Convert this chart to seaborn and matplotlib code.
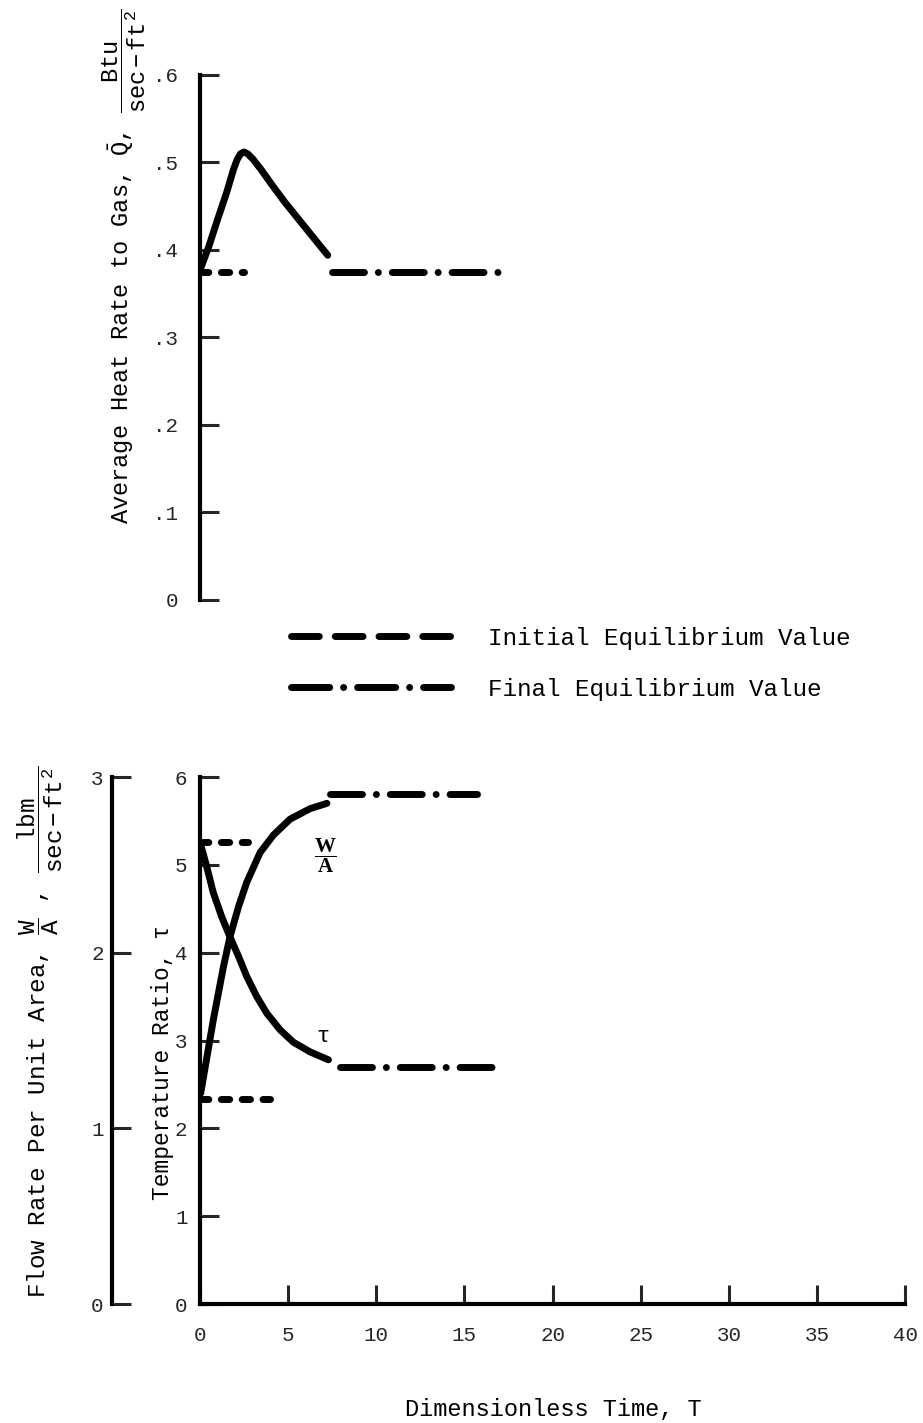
import matplotlib
matplotlib.use("Agg")
import matplotlib.pyplot as plt
import seaborn as sns
from matplotlib.lines import Line2D

# ---------------- data ----------------
q_time = [0.0, 0.5, 1.0, 1.5, 1.9, 2.1, 2.3, 2.5, 2.7, 3.0, 3.5, 4.1, 4.8, 5.6, 6.4, 7.25]
q_rate = [0.377, 0.404, 0.435, 0.465, 0.492, 0.503, 0.510, 0.512, 0.510, 0.504, 0.491,
          0.474, 0.455, 0.435, 0.415, 0.394]
q_initial = 0.375
q_initial_time = [0.0, 2.5]
q_final = 0.375
q_final_time = [7.5, 16.9]

wa_time = [0.04, 0.76, 1.33, 1.70, 2.18, 2.65, 3.41, 4.17, 5.11, 6.25, 7.2]
wa_flow = [1.20, 1.62, 1.92, 2.09, 2.26, 2.40, 2.57, 2.67, 2.76, 2.82, 2.85]
wa_initial = 1.167
wa_initial_time = [0.0, 4.0]
wa_final = 2.905
wa_final_time = [7.4, 15.7]

tau_time = [0.04, 0.38, 0.76, 1.23, 1.70, 2.18, 2.65, 3.22, 3.79, 4.55, 5.30, 6.25, 7.29]
tau_ratio = [5.23, 4.98, 4.68, 4.41, 4.18, 3.96, 3.73, 3.50, 3.31, 3.12, 2.98, 2.87, 2.78]
tau_initial = 5.26
tau_initial_time = [0.0, 2.7]
tau_final = 2.70
tau_final_time = [7.95, 16.85]

x_ticks = [0, 5, 10, 15, 20, 25, 30, 35, 40]
q_ticks = [0.0, 0.1, 0.2, 0.3, 0.4, 0.5, 0.6]
q_tick_labels = ["0", ".1", ".2", ".3", ".4", ".5", ".6"]
tau_ticks = [0, 1, 2, 3, 4, 5, 6]
wa_ticks = [0, 1, 2, 3]
legend_labels = ["Initial Equilibrium Value", "Final Equilibrium Value"]

# ---------------- style ----------------
sns.set_style("ticks")
MONO = ["Liberation Mono", "DejaVu Sans Mono"]
plt.rcParams.update({
    "font.family": MONO,
    "mathtext.fontset": "custom",
    "mathtext.rm": "Liberation Mono",
    "mathtext.it": "Liberation Mono",
    "mathtext.bf": "Liberation Serif:bold",
    "mathtext.tt": "Liberation Mono",
    "axes.edgecolor": "black",
    "text.color": "black",
})

W, H = 923, 1423
fig = plt.figure(figsize=(W / 100, H / 100), dpi=100)
fig.patch.set_facecolor("white")

ax_q = fig.add_axes([200 / W, 1 - 600 / H, 705 / W, 525 / H])
ax_t = fig.add_axes([200 / W, 1 - 1304 / H, 705 / W, 527 / H])
ax_w = ax_t.twinx()

LW = 5
INIT_LS = (0, (1.2, 1.8))
FINAL_LS = (0, (4.6, 2.0, 0.01, 2.0))
common = dict(color="black", lw=LW, legend=False)

# top panel
sns.lineplot(x=q_time, y=q_rate, ax=ax_q, sort=False, solid_capstyle="round",
             solid_joinstyle="round", **common)
sns.lineplot(x=q_initial_time, y=[q_initial] * 2, ax=ax_q, linestyle=INIT_LS,
             dash_capstyle="round", **common)
sns.lineplot(x=q_final_time, y=[q_final] * 2, ax=ax_q, linestyle=FINAL_LS,
             dash_capstyle="round", **common)

# bottom panel: temperature ratio
sns.lineplot(x=tau_time, y=tau_ratio, ax=ax_t, sort=False, solid_capstyle="round",
             solid_joinstyle="round", **common)
sns.lineplot(x=tau_initial_time, y=[tau_initial] * 2, ax=ax_t, linestyle=INIT_LS,
             dash_capstyle="round", **common)
sns.lineplot(x=tau_final_time, y=[tau_final] * 2, ax=ax_t, linestyle=FINAL_LS,
             dash_capstyle="round", **common)

# bottom panel: flow rate (own scale)
sns.lineplot(x=wa_time, y=wa_flow, ax=ax_w, sort=False, solid_capstyle="round",
             solid_joinstyle="round", **common)
sns.lineplot(x=wa_initial_time, y=[wa_initial] * 2, ax=ax_w, linestyle=INIT_LS,
             dash_capstyle="round", **common)
sns.lineplot(x=wa_final_time, y=[wa_final] * 2, ax=ax_w, linestyle=FINAL_LS,
             dash_capstyle="round", **common)

# ---------------- axes formatting ----------------
for ax in (ax_q, ax_t, ax_w):
    ax.set_xlim(0, 40)
    ax.set_facecolor("none")
    ax.set_xlabel("")
    ax.set_ylabel("")
    for s in ax.spines.values():
        s.set_linewidth(3)
        s.set_visible(False)

ax_q.set_ylim(0, 0.6)
ax_q.spines["left"].set_visible(True)
ax_q.set_yticks(q_ticks)
ax_q.set_yticklabels(q_tick_labels)
ax_q.set_xticks([])
ax_q.tick_params(axis="y", direction="in", length=14, width=2.2, pad=16, labelsize=15)

ax_t.set_ylim(0, 6)
ax_t.spines["left"].set_visible(True)
ax_t.spines["bottom"].set_visible(True)
ax_t.set_yticks(tau_ticks)
ax_t.set_xticks(x_ticks)
ax_t.tick_params(axis="y", direction="in", length=14, width=2.2, pad=9, labelsize=15)
ax_t.tick_params(axis="x", direction="in", length=14, width=2.2, pad=16, labelsize=15)

ax_w.set_ylim(0, 3)
ax_w.yaxis.tick_left()
ax_w.spines["left"].set_visible(True)
ax_w.spines["left"].set_position(("axes", -88 / 705))
ax_w.set_yticks(wa_ticks)
ax_w.tick_params(axis="y", which="both", left=True, right=False, labelleft=True,
                 labelright=False, direction="in", length=14, width=2.2, pad=6,
                 labelsize=15)

# curve annotations
ax_t.text(7.1, 5.1, r"$\dfrac{\mathbf{W}}{\mathbf{A}}$", fontsize=15, ha="center", va="center")
ax_t.text(7.0, 3.05, "τ", fontsize=16, ha="center", va="center")

# ---------------- axis titles ----------------
def fx(px):
    return px / W

def fy(py):
    return 1 - py / H

fig.text(fx(124), fy(266),
         r"Average Heat Rate to Gas, $\bar{Q}$, $\dfrac{Btu}{sec-ft^2}$",
         rotation=90, ha="center", va="center", fontsize=17)
fig.text(fx(40), fy(1032),
         r"Flow Rate Per Unit Area, $\dfrac{W}{A}$ , $\dfrac{lbm}{sec-ft^2}$",
         rotation=90, ha="center", va="center", fontsize=17.5)
fig.text(fx(162), fy(1062), "Temperature Ratio, τ",
         rotation=90, ha="center", va="center", fontsize=16.5)
fig.text(fx(553), fy(1410), "Dimensionless Time, T",
         ha="center", va="center", fontsize=17)

# ---------------- legend ----------------
handles = [
    Line2D([0], [0], color="black", lw=LW, linestyle=(0, (4.0, 2.3)), dash_capstyle="round"),
    Line2D([0], [0], color="black", lw=LW, linestyle=(0, (5.5, 2.0, 0.01, 2.0)),
           dash_capstyle="round"),
]
fig.legend(handles, legend_labels, loc="upper left", bbox_to_anchor=(fx(291), fy(627)),
           frameon=False, fontsize=17.5, handlelength=6.6, handletextpad=1.5,
           labelspacing=1.15, borderpad=0, borderaxespad=0)

fig.savefig("out.png", dpi=100, facecolor="white")
